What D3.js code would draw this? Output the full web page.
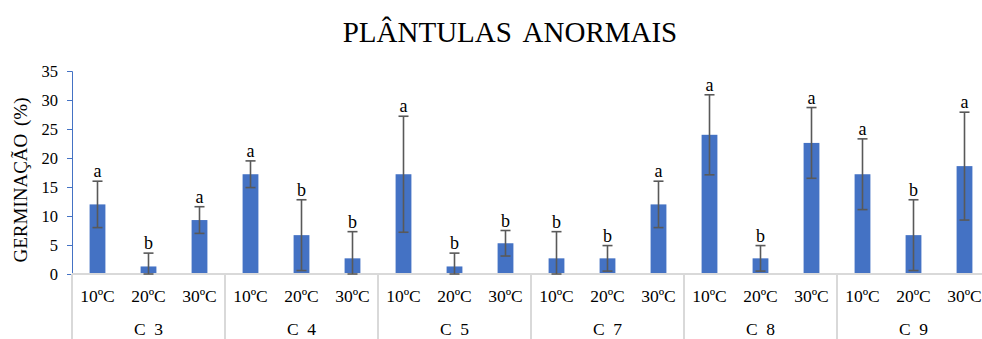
<!DOCTYPE html>
<html>
<head>
<meta charset="utf-8">
<script src="https://cdn.jsdelivr.net/npm/d3@7"></script>
<style>
  body { margin: 0; background: #fff; }
</style>
</head>
<body>
<svg id="chart" width="982" height="339"></svg>
<script>
// data
const groups = ['C  3', 'C  4', 'C  5', 'C  7', 'C  8', 'C  9'];
const temps = ['10ºC', '20ºC', '30ºC'];
const means = [
  [12.0, 1.3, 9.3],
  [17.2, 6.7, 2.7],
  [17.2, 1.3, 5.3],
  [2.7, 2.7, 12.0],
  [24.0, 2.7, 22.6],
  [17.2, 6.7, 18.6]
];
const errs = [
  [4.0, 2.3, 2.3],
  [2.3, 6.1, 4.6],
  [10.0, 2.3, 2.2],
  [4.6, 2.2, 4.0],
  [6.9, 2.2, 6.1],
  [6.1, 6.1, 9.3]
];
const letters = [
  ['a', 'b', 'a'],
  ['a', 'b', 'b'],
  ['a', 'b', 'b'],
  ['b', 'b', 'a'],
  ['a', 'b', 'a'],
  ['a', 'b', 'a']
];
const yTicks = [0, 5, 10, 15, 20, 25, 30, 35];

const FONT = '"Liberation Serif", "Times New Roman", "DejaVu Serif", serif';

const svg = d3.select('#chart');
const margin = { left: 72, right: -8, top: 71, bottom: 65 };
const width = 982 - margin.left - margin.right;
const height = 339 - margin.top - margin.bottom;

// flat rows
const rows = [];
groups.forEach((g, gi) => {
  temps.forEach((t, ti) => {
    rows.push({ key: g + '|' + t, group: g, temp: t, value: means[gi][ti], err: errs[gi][ti], letter: letters[gi][ti] });
  });
});

const x = d3.scaleBand().domain(rows.map(d => d.key)).range([0, width]).paddingInner(0.69).paddingOuter(0.345);
const y = d3.scaleLinear().domain([0, 35]).range([height, 0]);

const graph = svg.append('g').attr('transform', `translate(${margin.left}, ${margin.top})`);

// title
svg.append('text')
  .attr('x', 510)
  .attr('y', 42)
  .attr('text-anchor', 'middle')
  .style('font-family', FONT)
  .style('font-size', '29px')
  .style('word-spacing', '5px')
  .text('PLÂNTULAS ANORMAIS');

// y axis label
svg.append('text')
  .attr('transform', `translate(27, 180) rotate(-90)`)
  .attr('text-anchor', 'middle')
  .style('font-family', FONT)
  .style('font-size', '19px')
  .style('word-spacing', '3px')
  .text('GERMINAÇÃO (%)');

// y axis
const yAxis = graph.append('g').call(d3.axisLeft(y).tickValues(yTicks).tickSize(5).tickPadding(9));
yAxis.select('.domain').attr('stroke', '#4472c4').attr('stroke-width', 1);
yAxis.selectAll('.tick line').attr('stroke', '#4472c4');
yAxis.selectAll('.tick text')
  .style('font-family', FONT)
  .style('font-size', '16.5px')
  .attr('fill', '#000');

// bars
graph.selectAll('.bar')
  .data(rows)
  .enter()
  .append('rect')
  .attr('class', 'bar')
  .attr('x', d => x(d.key))
  .attr('width', x.bandwidth())
  .attr('y', d => y(d.value))
  .attr('height', d => height - y(d.value))
  .attr('fill', '#4472c4');

// baseline
graph.append('line')
  .attr('x1', 0).attr('x2', width)
  .attr('y1', height).attr('y2', height)
  .attr('stroke', '#d9d9d9').attr('stroke-width', 2);

// error bars
const cx = d => x(d.key) + x.bandwidth() / 2;
const errG = graph.selectAll('.err').data(rows).enter().append('g').attr('class', 'err')
  .attr('stroke', '#595959').attr('stroke-width', 1.6);
errG.append('line')
  .attr('x1', cx).attr('x2', cx)
  .attr('y1', d => y(d.value + d.err))
  .attr('y2', d => y(Math.max(0, d.value - d.err)));
errG.append('line')
  .attr('x1', d => cx(d) - 5).attr('x2', d => cx(d) + 5)
  .attr('y1', d => y(d.value + d.err)).attr('y2', d => y(d.value + d.err));
errG.append('line')
  .attr('x1', d => cx(d) - 5).attr('x2', d => cx(d) + 5)
  .attr('y1', d => y(Math.max(0, d.value - d.err))).attr('y2', d => y(Math.max(0, d.value - d.err)));

// letters
graph.selectAll('.letter')
  .data(rows)
  .enter()
  .append('text')
  .attr('class', 'letter')
  .attr('x', cx)
  .attr('y', d => y(d.value + d.err) - 4)
  .attr('text-anchor', 'middle')
  .style('font-family', FONT)
  .style('font-size', '18px')
  .text(d => d.letter);

// category labels
graph.selectAll('.temp')
  .data(rows)
  .enter()
  .append('text')
  .attr('class', 'temp')
  .attr('x', cx)
  .attr('y', height + 28)
  .attr('text-anchor', 'middle')
  .style('font-family', FONT)
  .style('font-size', '17.5px')
  .text(d => d.temp);

// group labels and separators
const gw = width / groups.length;
graph.selectAll('.group')
  .data(groups)
  .enter()
  .append('text')
  .attr('class', 'group')
  .attr('x', (d, i) => gw * i + gw / 2)
  .attr('y', height + 61)
  .attr('text-anchor', 'middle')
  .style('font-family', FONT)
  .style('font-size', '17.5px')
  .style('white-space', 'pre')
  .text(d => d);

graph.selectAll('.sep')
  .data(d3.range(groups.length + 1))
  .enter()
  .append('line')
  .attr('class', 'sep')
  .attr('x1', i => gw * i).attr('x2', i => gw * i)
  .attr('y1', height).attr('y2', height + margin.bottom)
  .attr('stroke', '#d9d9d9').attr('stroke-width', 2);
</script>
</body>
</html>
